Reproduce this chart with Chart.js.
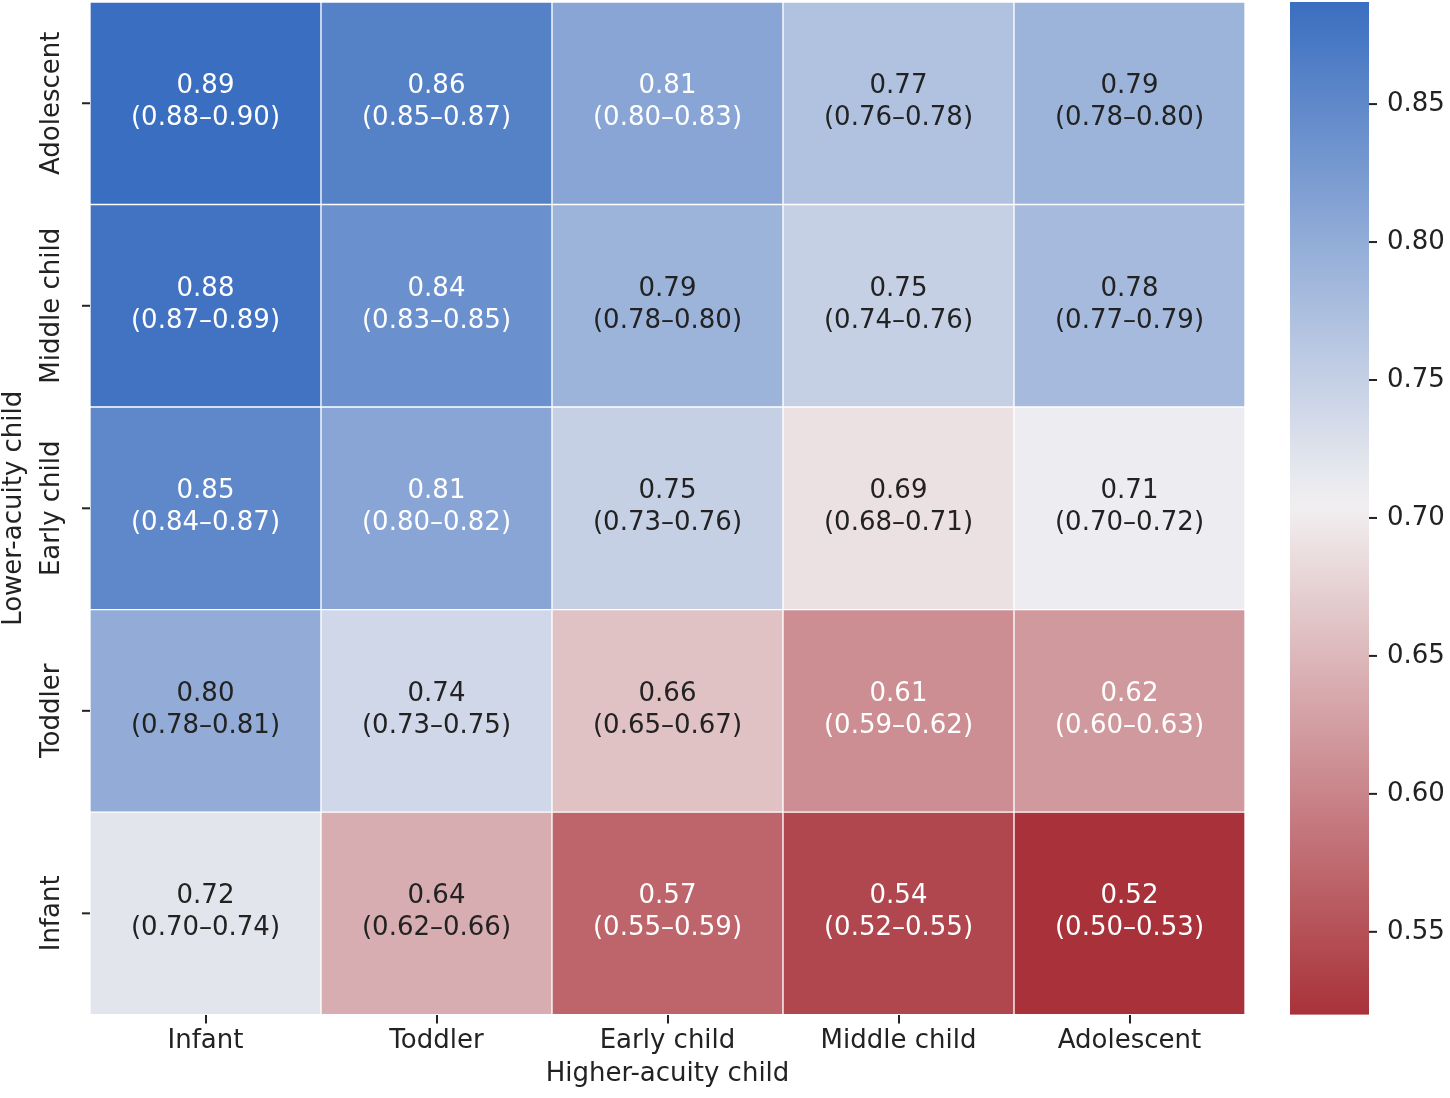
<!DOCTYPE html>
<html><head><meta charset="utf-8">
<script src="https://cdn.jsdelivr.net/npm/chart.js@4"></script>
<style>html,body{margin:0;padding:0;background:#fff}#w{width:1450px;height:1098px}</style>
</head><body><div id="w"><canvas id="c"></canvas></div>
<script>
const xLabels = ["Infant","Toddler","Early child","Middle child","Adolescent"];
const yLabels = ["Infant","Toddler","Early child","Middle child","Adolescent"]; // bottom to top
const values = [ // rows bottom (Infant) to top (Adolescent)
  [0.72,0.64,0.57,0.54,0.52],
  [0.80,0.74,0.66,0.61,0.62],
  [0.85,0.81,0.75,0.69,0.71],
  [0.88,0.84,0.79,0.75,0.78],
  [0.89,0.86,0.81,0.77,0.79]
];
const ciLow = [
  [0.70,0.62,0.55,0.52,0.50],
  [0.78,0.73,0.65,0.59,0.60],
  [0.84,0.80,0.73,0.68,0.70],
  [0.87,0.83,0.78,0.74,0.77],
  [0.88,0.85,0.80,0.76,0.78]
];
const ciHigh = [
  [0.74,0.66,0.59,0.55,0.53],
  [0.81,0.75,0.67,0.62,0.63],
  [0.87,0.82,0.76,0.71,0.72],
  [0.89,0.85,0.80,0.76,0.79],
  [0.90,0.87,0.83,0.78,0.80]
];
const cbTicks = [0.55,0.60,0.65,0.70,0.75,0.80,0.85];
const VMIN=0.52, VMAX=0.887, VC=0.705;
const RED=[169,50,58], MID=[242,240,241], BLUE=[58,110,192];
function col(v){
  let a,b,t;
  if(v<VC){a=RED;b=MID;t=(v-VMIN)/(VC-VMIN);}else{a=MID;b=BLUE;t=(v-VC)/(VMAX-VC);}
  t=Math.max(0,Math.min(1,t));
  return `rgb(${a.map((x,i)=>Math.round(x+(b[i]-x)*t)).join(',')})`;
}
const F='"DejaVu Sans", sans-serif';
const datasets = values.map((row,r)=>({
  label:yLabels[r], data:row.map(()=>1),
  backgroundColor:row.map(col), borderColor:'#fff', borderWidth:1, borderSkipped:false,
  categoryPercentage:1, barPercentage:1
}));
const deco = {
  id:'deco',
  afterDatasetsDraw(ch){
    const {ctx,chartArea:a,scales:{x,y}}=ch;
    ctx.save();
    ctx.textAlign='center';ctx.textBaseline='middle';ctx.font='26px '+F;
    values.forEach((row,r)=>row.forEach((v,c)=>{
      const cx=x.getPixelForValue(c), cy=y.getPixelForValue(r+0.5);
      ctx.fillStyle=(v>=0.805||v<=0.63)?'#fff':'#222';
      ctx.fillText(v.toFixed(2),cx,cy-17);
      ctx.fillText(`(${ciLow[r][c].toFixed(2)}–${ciHigh[r][c].toFixed(2)})`,cx,cy+15);
    }));
    // y ticks & labels
    ctx.strokeStyle='#222';ctx.lineWidth=2;ctx.fillStyle='#222';
    yLabels.forEach((l,i)=>{
      const py=y.getPixelForValue(i+0.5);
      ctx.beginPath();ctx.moveTo(a.left-8,py);ctx.lineTo(a.left,py);ctx.stroke();
      ctx.save();ctx.translate(a.left-38,py);ctx.rotate(-Math.PI/2);ctx.fillText(l,0,0);ctx.restore();
    });
    ctx.save();ctx.translate(14,(a.top+a.bottom)/2);ctx.rotate(-Math.PI/2);ctx.fillText('Lower-acuity child',0,0);ctx.restore();
    // colorbar
    const L=1290,R=1369,T=a.top,B=a.bottom;
    const g=ctx.createLinearGradient(0,B,0,T);
    for(let i=0;i<=40;i++){const v=VMIN+(VMAX-VMIN)*i/40;g.addColorStop(i/40,col(v));}
    ctx.fillStyle=g;ctx.fillRect(L,T,R-L,B-T);
    ctx.fillStyle='#222';ctx.textAlign='left';
    cbTicks.forEach(t=>{
      const py=B-(t-VMIN)/(VMAX-VMIN)*(B-T);
      ctx.beginPath();ctx.moveTo(R,py);ctx.lineTo(R+8,py);ctx.stroke();
      ctx.fillText(t.toFixed(2),R+18,py);
    });
    ctx.restore();
  }
};
new Chart(document.getElementById('c'),{
  type:'bar',
  data:{labels:xLabels,datasets},
  options:{
    responsive:true,maintainAspectRatio:false,animation:false,
    layout:{padding:{left:90,right:205,top:2,bottom:4}},
    plugins:{legend:{display:false},tooltip:{enabled:false}},
    scales:{
      x:{stacked:true,offset:true,
        grid:{offset:false,drawOnChartArea:false,tickLength:9,color:'#222',lineWidth:2},
        border:{display:false},
        ticks:{color:'#222',font:{family:F,size:26},padding:2,maxRotation:0},
        title:{display:true,text:'Higher-acuity child',color:'#222',font:{family:F,size:26},padding:{top:0}}},
      y:{stacked:true,min:0,max:5,display:false}
    }
  },
  plugins:[deco]
});
</script></body></html>
